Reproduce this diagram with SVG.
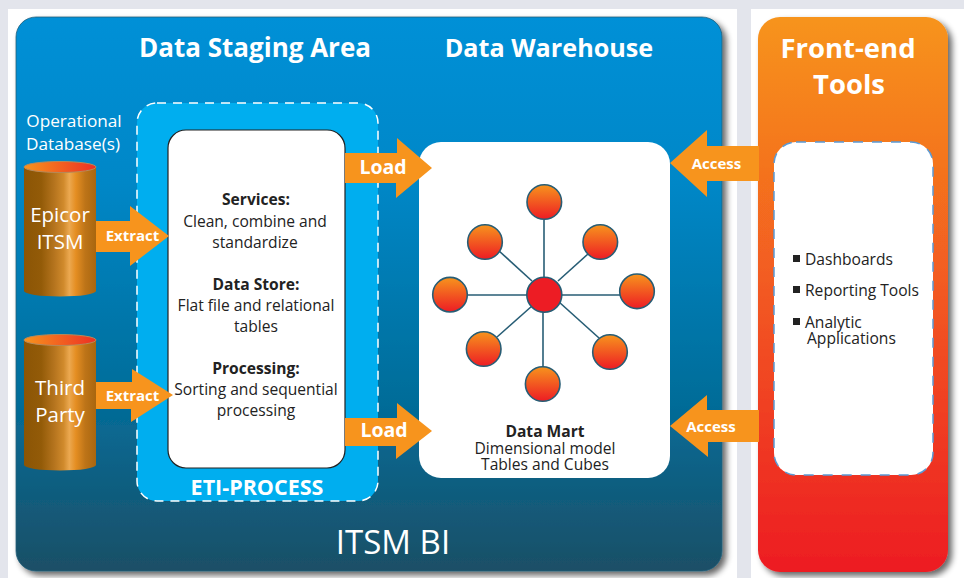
<svg xmlns="http://www.w3.org/2000/svg" width="964" height="578" viewBox="0 0 964 578">
<defs>
<linearGradient id="blue" x1="0" y1="0" x2="0" y2="1"><stop offset="0" stop-color="#0090d7"/><stop offset="0.3" stop-color="#0087c7"/><stop offset="0.7" stop-color="#046c98"/><stop offset="1" stop-color="#1b4f66"/></linearGradient>
<linearGradient id="orange" x1="0" y1="0" x2="0" y2="1"><stop offset="0" stop-color="#f7941d"/><stop offset="1" stop-color="#ed1c24"/></linearGradient>
<linearGradient id="cyl" x1="0" y1="0" x2="1" y2="0"><stop offset="0" stop-color="#8b5505"/><stop offset="0.24" stop-color="#935b08"/><stop offset="0.42" stop-color="#b5741e"/><stop offset="0.55" stop-color="#d08a2c"/><stop offset="0.63" stop-color="#eba850"/><stop offset="0.72" stop-color="#e58e22"/><stop offset="0.85" stop-color="#bd7418"/><stop offset="1" stop-color="#a9660f"/></linearGradient>
<linearGradient id="cap" x1="0" y1="0" x2="1" y2="0"><stop offset="0" stop-color="#f7941d"/><stop offset="1" stop-color="#ed2f24"/></linearGradient>
<filter id="sh" x="-5%" y="-5%" width="112%" height="112%"><feGaussianBlur in="SourceAlpha" stdDeviation="3"/><feOffset dx="4" dy="4"/><feComponentTransfer><feFuncA type="linear" slope="0.6"/></feComponentTransfer><feMerge><feMergeNode/><feMergeNode in="SourceGraphic"/></feMerge></filter>
</defs>
<style>
text{font-family:"Open Sans","Noto Sans","Liberation Sans",sans-serif;text-anchor:middle}
.w{fill:#fff}
.b{font-weight:700}
.k{fill:#222}
.t{font-size:15.6px}
.arrow{fill:#f7941d}
.a{font-size:15px;font-weight:700;fill:#fff}
.ball{fill:url(#orange);stroke:#275d75;stroke-width:1.6}
.spoke{stroke:#275d75;stroke-width:1.6;fill:none}
</style>
<rect width="964" height="578" fill="#e3e5ec"/>
<rect x="8" y="9" width="729" height="569" fill="#fff"/>
<rect x="751" y="9" width="213" height="569" fill="#fff"/>
<g id="itsm-bi">
<rect x="16" y="17" width="706" height="554" rx="20" fill="url(#blue)" stroke="#25607a" stroke-width="0.8" filter="url(#sh)"/>
<text class="w" x="393" y="554" font-size="33">ITSM BI</text>
<text class="w b" x="255" y="57" font-size="26">Data Staging Area</text>
<text class="w b" x="549" y="57" font-size="25.2">Data Warehouse</text>
<text class="w" x="74" y="127" font-size="17.2">Operational</text>
<text class="w" x="73" y="150" font-size="17.2">Database(s)</text>
</g>
<g id="front-end-tools">
<rect x="758" y="17" width="190" height="555" rx="22" fill="url(#orange)" filter="url(#sh)"/>
<text class="w b" x="848" y="58" font-size="27.5">Front-end</text>
<text class="w b" x="849" y="94" font-size="27.5">Tools</text>
</g>
<g id="eti-process">
<rect x="137" y="103" width="241" height="398" rx="20" fill="#00aeef" stroke="#fff" stroke-width="1.5" stroke-dasharray="9 7"/>
<text class="w b" x="257" y="495" font-size="21.5">ETI-PROCESS</text>
</g>
<g id="services-box">
<rect x="168" y="130" width="177" height="338" rx="18" fill="#fff" stroke="#222" stroke-width="1.2"/>
<text class="k b t" x="256" y="205">Services:</text>
<text class="k t" x="255" y="227">Clean, combine and</text>
<text class="k t" x="255" y="248">standardize</text>
<text class="k b t" x="256" y="290">Data Store:</text>
<text class="k t" x="256" y="311">Flat file and relational</text>
<text class="k t" x="256" y="332">tables</text>
<text class="k b t" x="256" y="374">Processing:</text>
<text class="k t" x="256" y="395">Sorting and sequential</text>
<text class="k t" x="256" y="416">processing</text>
</g>
<g id="data-warehouse">
<rect x="419" y="142" width="251" height="336" rx="22" fill="#fff"/>
<text class="k b t" x="545" y="437">Data Mart</text>
<text class="k t" x="545" y="454">Dimensional model</text>
<text class="k t" x="545" y="470">Tables and Cubes</text>
</g>
<g id="tools-box">
<rect x="774" y="142" width="159" height="333" rx="22" fill="#fff" stroke="#5b9bd5" stroke-width="1.5" stroke-dasharray="10 9"/>
<rect x="793" y="255" width="7" height="7" fill="#222"/>
<rect x="793" y="286" width="7" height="7" fill="#222"/>
<rect x="793" y="318" width="7" height="7" fill="#222"/>
<g class="k" style="font-size:15.6px">
<text x="805" y="265" style="text-anchor:start">Dashboards</text>
<text x="805" y="296" style="text-anchor:start">Reporting Tools</text>
<text x="805" y="328" style="text-anchor:start">Analytic</text>
<text x="807" y="344" style="text-anchor:start">Applications</text>
</g>
</g>
<g id="epicor-itsm">
<path d="M24 167V291A36 5.5 0 0 0 96 291V167Z" fill="url(#cyl)"/>
<ellipse cx="60" cy="167" rx="36" ry="5.5" fill="url(#cap)" stroke="#b5895a" stroke-width="1"/>
<text class="w" x="60" y="222" font-size="20.5">Epicor</text>
<text class="w" x="60" y="249" font-size="20.5">ITSM</text>
</g>
<g id="third-party">
<path d="M24 340V465A36 5.5 0 0 0 96 465V340Z" fill="url(#cyl)"/>
<ellipse cx="60" cy="340" rx="36" ry="5.5" fill="url(#cap)" stroke="#b5895a" stroke-width="1"/>
<text class="w" x="60" y="395" font-size="20.5">Third</text>
<text class="w" x="60" y="422" font-size="20.5">Party</text>
</g>
<g id="connectors">
<path class="arrow" d="M96 221H130V206L169 236L130 266V252H96Z"/>
<path class="arrow" d="M96 382H132V369L173 395L131 422V409H96Z"/>
<path class="arrow" d="M345 153H397V138L432 168L396 198V183H345Z"/>
<path class="arrow" d="M345 418H397V403L432 431L396 459V446H345Z"/>
<path class="arrow" d="M670 163L707 130V146H759V181H707V197Z"/>
<path class="arrow" d="M670 426L707 395V410H759V442H708V457Z"/>
<text class="a" x="132.500" y="241">Extract</text>
<text class="a" x="132.500" y="401">Extract</text>
<text class="a" x="383" y="174" style="font-size:19.500px">Load</text>
<text class="a" x="384" y="437" style="font-size:19.500px">Load</text>
<text class="a" x="716.500" y="169">Access</text>
<text class="a" x="711" y="432">Access</text>
<line class="spoke" x1="544" y1="220" x2="544" y2="277"/>
<line class="spoke" x1="498" y1="250" x2="532" y2="281"/>
<line class="spoke" x1="588" y1="254" x2="558" y2="281"/>
<line class="spoke" x1="468" y1="295" x2="527" y2="295"/>
<line class="spoke" x1="562" y1="295" x2="620" y2="295"/>
<line class="spoke" x1="497" y1="337" x2="532" y2="306"/>
<line class="spoke" x1="599" y1="338" x2="559" y2="302"/>
<line class="spoke" x1="543" y1="367" x2="543" y2="311"/>
</g>
<g id="star">
<circle class="ball" cx="544.3" cy="202" r="17.3"/>
<circle class="ball" cx="485" cy="242" r="17.3"/>
<circle class="ball" cx="600.3" cy="242" r="17.3"/>
<circle class="ball" cx="450" cy="294.7" r="17.3"/>
<circle class="ball" cx="637" cy="291.3" r="17.3"/>
<circle class="ball" cx="483.7" cy="349" r="17.3"/>
<circle class="ball" cx="610" cy="352" r="17.3"/>
<circle class="ball" cx="542.7" cy="384" r="17.3"/>
<circle cx="544.3" cy="294.7" r="17.5" fill="#ed1c24" stroke="#275d75" stroke-width="1.6"/>
</g>
</svg>
